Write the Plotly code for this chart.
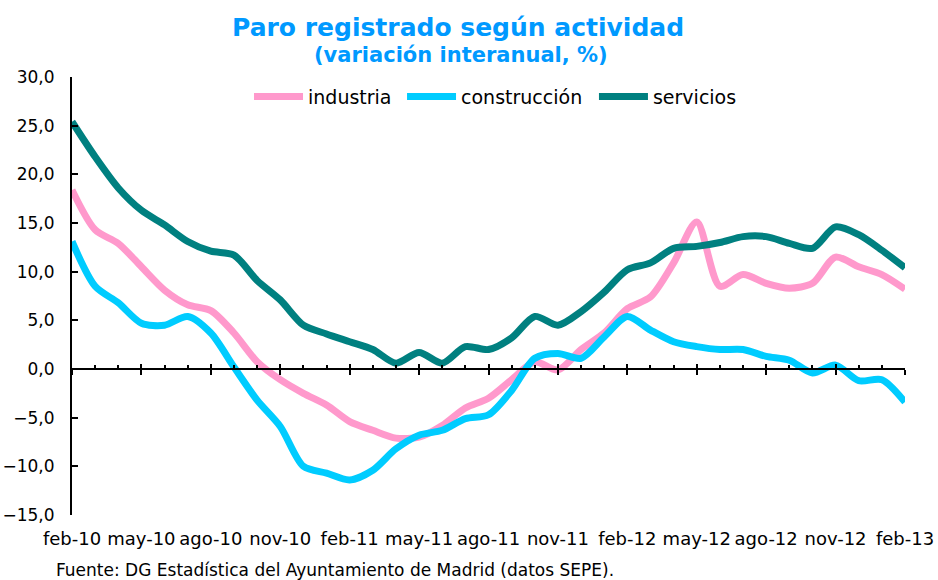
import plotly.graph_objects as go

months = ["feb-10", "mar-10", "abr-10", "may-10", "jun-10", "jul-10", "ago-10", "sep-10", "oct-10",
          "nov-10", "dic-10", "ene-11", "feb-11", "mar-11", "abr-11", "may-11", "jun-11", "jul-11",
          "ago-11", "sep-11", "oct-11", "nov-11", "dic-11", "ene-12", "feb-12", "mar-12", "abr-12",
          "may-12", "jun-12", "jul-12", "ago-12", "sep-12", "oct-12", "nov-12", "dic-12", "ene-13",
          "feb-13"]
tick_labels = ["feb-10", "may-10", "ago-10", "nov-10", "feb-11", "may-11", "ago-11", "nov-11",
               "feb-12", "may-12", "ago-12", "nov-12", "feb-13"]

industria = [18.4, 14.3, 12.9, 10.5, 8.1, 6.6, 6.0, 3.7, 0.75, -1.1, -2.5, -3.7, -5.4, -6.3, -7.1,
             -7.0, -5.8, -4.0, -3.0, -1.1, 0.75, -0.1, 2.0, 3.7, 6.2, 7.4, 10.9, 15.1, 8.5, 9.7,
             8.8, 8.3, 8.8, 11.5, 10.5, 9.7, 8.2]
construccion = [13.1, 8.5, 6.8, 4.7, 4.5, 5.4, 3.7, 0.2, -3.2, -5.9, -10.0, -10.7, -11.4, -10.4,
                -8.2, -6.8, -6.3, -5.1, -4.7, -2.2, 1.1, 1.6, 1.1, 3.3, 5.4, 4.0, 2.8, 2.3, 2.0,
                2.0, 1.3, 0.9, -0.4, 0.4, -1.2, -1.1, -3.4]
servicios = [25.4, 21.8, 18.6, 16.3, 14.8, 13.1, 12.1, 11.7, 9.1, 7.1, 4.5, 3.6, 2.8, 2.0, 0.6,
             1.7, 0.6, 2.3, 2.0, 3.2, 5.4, 4.5, 5.9, 7.9, 10.2, 10.9, 12.4, 12.6, 13.0, 13.6, 13.6,
             12.9, 12.4, 14.6, 13.8, 12.2, 10.4]

series = [("industria", industria, "#FF99CC", "legend", 0.2125),
          ("construcción", construccion, "#00CCFF", "legend2", 0.3962),
          ("servicios", servicios, "#008080", "legend3", 0.6266)]

FONT = "DejaVu Sans"

fig = go.Figure()
for name, vals, color, leg, _ in series:
    fig.add_trace(go.Scatter(x=months, y=vals, name=name, mode="lines", legend=leg,
                             line=dict(color=color, width=7, shape="spline", smoothing=0.8)))

# invisible helpers so the overlay tick axes render
for ax in ["x2", "x3", "x4"]:
    fig.add_trace(go.Scatter(x=months, y=[None] * len(months), xaxis=ax, showlegend=False,
                             hoverinfo="skip"))

legends = {}
for name, vals, color, leg, lx in series:
    legends[leg] = dict(orientation="h", x=lx, xanchor="left", y=0.955, yanchor="middle",
                        font=dict(family=FONT, size=19, color="black"),
                        bgcolor="rgba(0,0,0,0)", itemwidth=49)

n = len(months) - 1
overlay = dict(type="category", categoryarray=months, range=[0, n], overlaying="x",
               anchor="free", position=1 / 3, showticklabels=False, showgrid=False,
               zeroline=False, automargin=False, tickcolor="black", tickwidth=2)

fig.update_layout(
    width=938, height=580,
    margin=dict(l=72, r=33, t=77, b=65, autoexpand=False),
    paper_bgcolor="white", plot_bgcolor="white",
    separators=",.",
    font=dict(family=FONT, size=18, color="black"),
    showlegend=True,
    xaxis=dict(type="category", categoryarray=months, range=[0, n], automargin=False,
               tickmode="array", tickvals=tick_labels, ticktext=tick_labels,
               ticks="", showline=False, showgrid=False, zeroline=False,
               ticklabelstandoff=11, tickfont=dict(family=FONT, size=18)),
    xaxis2=dict(**overlay, showline=True, linecolor="black", linewidth=2,
                ticks="inside", ticklen=3, dtick=1),
    xaxis3=dict(**overlay, showline=False, tickmode="array", tickvals=tick_labels,
                ticks="outside", ticklen=5),
    xaxis4=dict(**overlay, showline=False, tickmode="array", tickvals=tick_labels,
                ticks="inside", ticklen=5),
    yaxis=dict(range=[-15, 30], dtick=5, tick0=0, tickformat=".1f", automargin=False,
               showline=True, linecolor="black", linewidth=2,
               ticks="inside", ticklen=6, tickwidth=2, tickcolor="black",
               showgrid=False, zeroline=False, ticklabelstandoff=12,
               tickfont=dict(family=FONT, size=17)),
    **legends,
)

fig.add_annotation(text="<b>Paro registrado según actividad</b>",
                   xref="paper", yref="paper", x=0.463, xanchor="center",
                   y=1.112, yanchor="middle", showarrow=False,
                   font=dict(family=FONT, size=25, color="#0099FF"))
fig.add_annotation(text="<b>(variación interanual, %)</b>",
                   xref="paper", yref="paper", x=0.467, xanchor="center",
                   y=1.050, yanchor="middle", showarrow=False,
                   font=dict(family=FONT, size=21, color="#0099FF"))
fig.add_annotation(text="Fuente: DG Estadística del Ayuntamiento de Madrid (datos SEPE).",
                   xref="paper", yref="paper", x=-0.0215, xanchor="left",
                   y=-0.126, yanchor="middle", showarrow=False,
                   font=dict(family=FONT, size=17, color="black"))

fig.write_html("out.html", config={"displayModeBar": False},
               post_script="document.body.style.margin='0';")
